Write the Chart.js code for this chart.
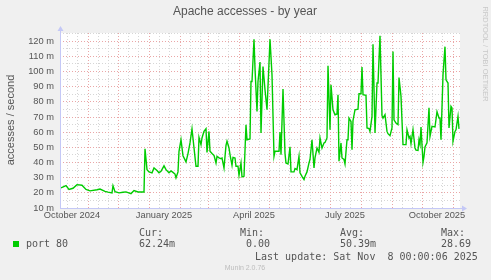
<!DOCTYPE html>
<html>
<head>
<meta charset="utf-8">
<script src="https://cdn.jsdelivr.net/npm/chart.js@4.4.1/dist/chart.umd.min.js"></script>
<style>
  html, body { margin: 0; padding: 0; background: #f0f0f0; }
  canvas { display: block; }
</style>
</head>
<body>
<canvas id="chart" width="491" height="280"></canvas>
<script>
// day 0 = 2024-10-04, graph ends at day 400 (2025-11-08)
const days = [1, 6, 9, 13, 17, 22, 26, 30, 37, 40, 45, 48, 52, 53, 55, 59, 63, 66, 71, 74, 78, 84,
    85, 87, 89, 92, 94, 97, 99, 101, 104, 106, 109, 111, 113, 115, 116, 118, 119, 121, 123, 126, 128, 130,
    132, 134, 136, 138, 139, 141, 142, 144, 146, 147, 149, 150, 152, 154, 156, 157, 159, 161, 162, 164,
    166, 167, 169, 170, 172, 173, 175, 176, 178, 179, 181, 182, 184, 186, 187, 190, 191, 192, 194, 195,
    197, 198, 200, 201, 203, 205, 207, 210, 212, 214, 215, 219, 220, 221, 223, 225, 226, 228, 230, 231,
    234, 235, 237, 239, 240, 242, 244, 245, 247, 249, 250, 252, 254, 255, 257, 259, 260, 262, 264, 265,
    267, 268, 270, 271, 273, 275, 277, 278, 279, 281, 282, 284, 285, 287, 288, 289, 291, 292, 293, 295,
    298, 299, 301, 302, 303, 306, 307, 309, 310, 312, 313, 315, 317, 318, 320, 322, 323, 325, 327, 328,
    330, 332, 333, 334, 336, 338, 339, 341, 343, 346, 347, 349, 350, 351, 353, 355, 356, 358, 359, 360,
    361, 363, 364, 365, 367, 369, 370, 372, 375, 377, 379, 380, 381, 383, 385, 386, 388, 389, 391, 392,
    393, 395, 396, 398, 399];

// port 80, in milli accesses / second
const port80 = [23.3, 24.8, 22.2, 23.0, 25.4, 25.0, 22.2, 21.3, 22.0, 22.5, 21.0, 20.5, 20.0, 24.7, 20.8, 20.0, 20.4, 20.6, 19.5, 21.5, 20.6, 20.6,
    49.0, 35.3, 33.8, 33.2, 36.4, 34.7, 33.2, 34.2, 37.8, 35.3, 33.2, 34.4, 33.5, 32.4, 29.9, 33.8, 47.4, 55.0, 44.5, 40.4, 45.9, 52.9,
    62.1, 49.6, 37.5, 37.5, 56.6, 51.8, 56.2, 60.5, 62.3, 46.7, 60.5, 47.4, 45.9, 44.7, 39.7, 44.1, 43.0, 42.5, 43.0, 36.4,
    51.3, 54.0, 49.6, 45.2, 38.2, 43.4, 43.0, 37.5, 37.5, 31.6, 39.7, 30.5, 30.9, 64.9, 55.0, 55.5, 93.4, 93.4, 121.3, 102.2,
    73.7, 93.4, 106.2, 59.5, 103.3, 88.0, 74.8, 121.3, 97.8, 44.1, 47.4, 47.4, 60.1, 45.2, 88.4, 45.9, 39.7, 39.0, 50.3, 33.8,
    33.8, 36.0, 35.3, 44.1, 33.2, 30.9, 28.8, 30.9, 33.8, 39.7, 42.0, 55.0, 36.4, 43.0, 49.6, 46.7, 56.2, 49.6, 52.9, 53.2,
    56.2, 103.8, 61.6, 91.2, 74.8, 71.5, 72.0, 84.7, 40.8, 52.9, 43.0, 42.0, 39.1, 55.0, 55.0, 69.3, 67.0, 48.5, 67.7, 74.8,
    75.2, 85.3, 85.3, 102.9, 84.7, 84.3, 62.8, 62.4, 60.5, 70.4, 118.0, 59.5, 92.4, 92.4, 123.5, 70.9, 69.3, 71.5, 60.5, 59.0,
    57.7, 62.8, 113.2, 68.2, 66.0, 65.0, 96.0, 83.6, 51.8, 51.8, 61.6, 56.2, 57.2, 52.4, 61.6, 49.6, 48.2, 48.0, 55.0, 52.0,
    63.4, 40.1, 44.1, 50.3, 53.0, 76.1, 57.2, 63.8, 63.4, 73.5, 69.3, 69.3, 55.0, 97.8, 116.4, 94.5, 92.4, 62.8, 77.0, 76.0,
    54.0, 60.5, 61.6, 70.4, 62.2];

// first of each month (major grid)
const monthStarts = [28, 58, 89, 120, 148, 179, 209, 240, 270, 301, 332, 362, 393];
// minor grid
const minorDays = [7, 17, 38, 48, 68, 78, 99, 109, 130, 140, 158, 168, 189, 199, 219, 229,
    250, 260, 280, 290, 311, 321, 342, 352, 372, 382];
// quarter labels, centred mid-month
const labelDays = [12, 104, 194, 285, 377];
const labelTexts = ["October 2024", "January 2025", "April 2025", "July 2025", "October 2025"];

const yTicks = [10, 15, 20, 25, 30, 35, 40, 45, 50, 55, 60, 65, 70, 75, 80, 85, 90, 95, 100, 105, 110, 115, 120, 125];

const MAJOR = "#eaa6a6";
const MINOR = "#d6d6d6";
const AXIS = "#c4c8f6";
const TEXT = "#555";

const munin = {
    id: "munin",
    beforeDraw(chart) {
        const { ctx, chartArea: a } = chart;
        ctx.save();
        ctx.fillStyle = "#f0f0f0";
        ctx.fillRect(0, 0, chart.width, chart.height);
        ctx.fillStyle = "#fff";
        ctx.fillRect(a.left, a.top, a.right - a.left, a.bottom - a.top);
        ctx.restore();
    },
    afterDraw(chart) {
        const { ctx, chartArea: a } = chart;
        ctx.save();

        // axes with arrows
        ctx.strokeStyle = AXIS;
        ctx.fillStyle = AXIS;
        ctx.lineWidth = 1;
        ctx.beginPath();
        ctx.moveTo(a.left + 0.5, a.bottom);
        ctx.lineTo(a.left + 0.5, a.top - 4);
        ctx.moveTo(a.left, a.bottom + 0.5);
        ctx.lineTo(a.right + 3, a.bottom + 0.5);
        ctx.stroke();
        ctx.beginPath();
        ctx.moveTo(a.left - 2.5, a.top - 2);
        ctx.lineTo(a.left + 3.5, a.top - 2);
        ctx.lineTo(a.left + 0.5, a.top - 7);
        ctx.closePath();
        ctx.fill();
        ctx.beginPath();
        ctx.moveTo(a.right + 2, a.bottom - 2.5);
        ctx.lineTo(a.right + 2, a.bottom + 3.5);
        ctx.lineTo(a.right + 7, a.bottom + 0.5);
        ctx.closePath();
        ctx.fill();

        // title
        ctx.fillStyle = TEXT;
        ctx.textAlign = "center";
        ctx.textBaseline = "middle";
        ctx.font = "12px 'Liberation Sans'";
        ctx.fillText("Apache accesses - by year", 245, 12);

        // vertical axis title
        ctx.save();
        ctx.translate(11, 120);
        ctx.rotate(-Math.PI / 2);
        ctx.font = "11px 'Liberation Sans'";
        ctx.fillText("accesses / second", 0, 0);
        ctx.restore();

        // rrdtool watermark
        ctx.save();
        ctx.translate(485, 54);
        ctx.rotate(Math.PI / 2);
        ctx.fillStyle = "#c8c8c8";
        ctx.font = "7.5px 'Liberation Sans'";
        ctx.fillText("RRDTOOL / TOBI OETIKER", 0, 0);
        ctx.restore();

        // legend
        ctx.textAlign = "left";
        ctx.font = "10px 'DejaVu Sans Mono'";
        ctx.fillText("Cur:", 139, 233);
        ctx.fillText("Min:", 240, 233);
        ctx.fillText("Avg:", 340, 233);
        ctx.fillText("Max:", 441, 233);
        ctx.fillStyle = "#00cc00";
        ctx.fillRect(13, 241, 6, 6);
        ctx.fillStyle = TEXT;
        ctx.fillText("port 80", 26, 244);
        ctx.fillText("62.24m", 139, 244);
        ctx.fillText("0.00", 246, 244);
        ctx.fillText("50.39m", 340, 244);
        ctx.fillText("28.69", 441, 244);
        ctx.fillText("Last update: Sat Nov  8 00:00:06 2025", 255, 257);

        ctx.fillStyle = "#bdbdbd";
        ctx.textAlign = "center";
        ctx.font = "7px 'Liberation Sans'";
        ctx.fillText("Munin 2.0.76", 245, 268);
        ctx.restore();
    }
};

const xTicks = [...minorDays, ...monthStarts, ...labelDays];

new Chart(document.getElementById("chart"), {
    type: "line",
    data: {
        datasets: [{
            label: "port 80",
            data: days.map((d, i) => ({ x: d, y: port80[i] })),
            borderColor: "#00cc00",
            borderWidth: 1.4,
            pointRadius: 0,
            tension: 0,
            fill: false
        }]
    },
    options: {
        responsive: false,
        animation: false,
        events: [],
        layout: { padding: { top: 33, right: 31, left: 0, bottom: 0 } },
        plugins: { legend: { display: false }, tooltip: { enabled: false } },
        scales: {
            x: {
                type: "linear",
                min: 0,
                max: 400,
                afterFit: s => { s.height = 72; },
                afterBuildTicks: s => { s.ticks = xTicks.map(v => ({ value: v })); },
                grid: {
                    drawTicks: false,
                    lineWidth: 1,
                    color: c => {
                        const v = c.tick && c.tick.value;
                        if (monthStarts.includes(v)) return MAJOR;
                        if (minorDays.includes(v)) return MINOR;
                        return "rgba(0,0,0,0)";
                    }
                },
                border: { display: false, dash: [1, 2] },
                ticks: {
                    autoSkip: false,
                    maxRotation: 0,
                    padding: 2,
                    color: TEXT,
                    font: { family: "Liberation Sans", size: 9.3 },
                    callback: v => {
                        const i = labelDays.indexOf(v);
                        return i >= 0 ? labelTexts[i] : "";
                    }
                }
            },
            y: {
                min: 10,
                max: 125.4,
                afterFit: s => { s.width = 60; },
                afterBuildTicks: s => { s.ticks = yTicks.map(v => ({ value: v })); },
                grid: {
                    drawTicks: false,
                    lineWidth: 1,
                    color: c => (c.tick && c.tick.value % 10 === 0) ? MAJOR : MINOR
                },
                border: { display: false, dash: [1, 2] },
                ticks: {
                    autoSkip: false,
                    padding: 6,
                    color: TEXT,
                    font: { family: "Liberation Sans", size: 9.3 },
                    callback: v => v % 10 === 0 ? v + " m" : ""
                }
            }
        }
    },
    plugins: [munin]
});
</script>
</body>
</html>
